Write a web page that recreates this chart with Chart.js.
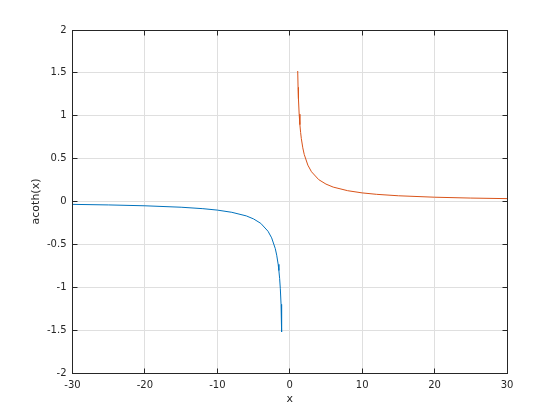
<!DOCTYPE html>
<html>
<head>
<meta charset="utf-8">
<script src="https://cdn.jsdelivr.net/npm/chart.js@4/dist/chart.umd.min.js"></script>
<style>
  html, body { margin: 0; padding: 0; background: #fff; }
  #wrap { width: 560px; height: 420px; }
</style>
</head>
<body>
<div id="wrap"><canvas id="grafico" width="560" height="420"></canvas></div>
<script>
// pontos, ramo x < -1 (azul)
const xNeg = [-30, -25, -20, -15, -12, -10, -8, -6, -5, -4, -3, -2.5, -2, -1.8, -1.6, -1.5, -1.4, -1.3, -1.2, -1.15, -1.1];
const yNeg = [-0.0334, -0.040, -0.050, -0.0668, -0.0835, -0.1003, -0.126, -0.168, -0.203, -0.255, -0.347, -0.424, -0.549, -0.626, -0.733, -0.805, -0.896, -1.018, -1.199, -1.331, -1.522];

// ramo x > 1 (laranja)
const xPos = [1.1, 1.15, 1.2, 1.3, 1.4, 1.5, 1.6, 1.8, 2, 2.5, 3, 4, 5, 6, 8, 10, 12, 15, 20, 25, 30];
const yPos = [1.522, 1.331, 1.199, 1.018, 0.896, 0.805, 0.733, 0.626, 0.549, 0.424, 0.347, 0.255, 0.203, 0.168, 0.126, 0.1003, 0.0835, 0.0668, 0.050, 0.040, 0.0334];

// ticks
const xTicks = [-30, -20, -10, 0, 10, 20, 30];
const yTicks = [-2, -1.5, -1, -0.5, 0, 0.5, 1, 1.5, 2];

const fonte = { family: 'DejaVu Sans', size: 10 };
const corTexto = '#262626';

// caixa e marcas de escala para dentro (estilo MATLAB)
const caixa = {
    id: 'caixa',
    afterDraw(chart) {
        const ctx = chart.ctx;
        const a = chart.chartArea;
        const sx = chart.scales.x, sy = chart.scales.y;
        const l = Math.floor(a.left) + 0.5, r = Math.floor(a.right) + 0.5;
        const t = Math.floor(a.top) + 0.5, b = Math.floor(a.bottom) + 0.5;
        ctx.save();
        ctx.strokeStyle = '#262626';
        ctx.lineWidth = 1;
        ctx.beginPath();
        xTicks.forEach(v => {
            const p = Math.floor(sx.getPixelForValue(v)) + 0.5;
            ctx.moveTo(p, b); ctx.lineTo(p, b - 5);
            ctx.moveTo(p, t); ctx.lineTo(p, t + 5);
        });
        yTicks.forEach(v => {
            const p = Math.floor(sy.getPixelForValue(v)) + 0.5;
            ctx.moveTo(l, p); ctx.lineTo(l + 5, p);
            ctx.moveTo(r, p); ctx.lineTo(r - 5, p);
        });
        ctx.stroke();
        ctx.strokeRect(l, t, r - l, b - t);
        ctx.restore();
    }
};

let ctx = document.querySelector('#grafico').getContext('2d');
let grafico = new Chart(ctx, {
    type: 'line',
    data: {
        datasets: [{
            data: xNeg.map((x, i) => ({ x: x, y: yNeg[i] })),
            borderColor: '#0072BD',
            borderWidth: 1,
            borderJoinStyle: 'round',
            pointRadius: 0,
            fill: false,
            tension: 0
        }, {
            data: xPos.map((x, i) => ({ x: x, y: yPos[i] })),
            borderColor: '#D95319',
            borderWidth: 1,
            borderJoinStyle: 'round',
            pointRadius: 0,
            fill: false,
            tension: 0
        }]
    },
    options: {
        responsive: false,
        animation: false,
        layout: { padding: { left: 0, right: 53, top: 30, bottom: 0 } },
        plugins: { legend: { display: false }, tooltip: { enabled: false } },
        scales: {
            x: {
                type: 'linear',
                min: -30, max: 30,
                afterFit: s => { s.height = 47; },
                afterBuildTicks: s => { s.ticks = xTicks.map(v => ({ value: v })); },
                grid: { color: '#dfdfdf', drawTicks: false },
                border: { display: false },
                ticks: { color: corTexto, font: fonte, padding: 6, maxRotation: 0, callback: v => String(v) },
                title: { display: true, text: 'x', color: corTexto, font: { family: 'DejaVu Sans', size: 11 }, padding: { top: 0, bottom: 14 } }
            },
            y: {
                min: -2, max: 2,
                afterFit: s => { s.width = 72.5; },
                afterBuildTicks: s => { s.ticks = yTicks.map(v => ({ value: v })); },
                grid: { color: '#dfdfdf', drawTicks: false },
                border: { display: false },
                ticks: { color: corTexto, font: fonte, padding: 6, callback: v => String(v) },
                title: { display: true, text: 'acoth(x)', color: corTexto, font: { family: 'DejaVu Sans', size: 11 }, padding: { top: 30, bottom: 0 } }
            }
        }
    },
    plugins: [caixa]
});
</script>
</body>
</html>
